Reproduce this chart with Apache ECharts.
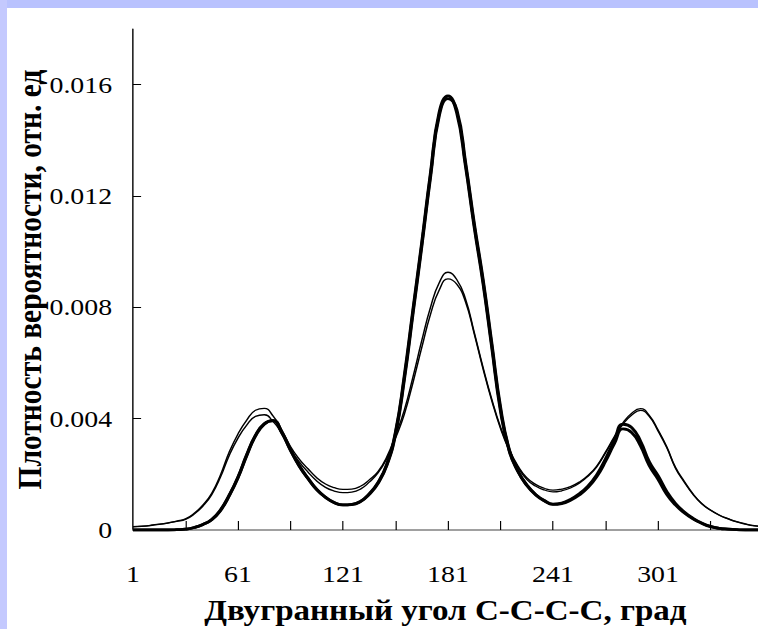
<!DOCTYPE html>
<html>
<head>
<meta charset="utf-8">
<script src="https://cdn.jsdelivr.net/npm/echarts@6/dist/echarts.min.js"></script>
<style>
html, body { margin: 0; padding: 0; width: 758px; height: 629px; overflow: hidden; background: #fff; }
#top-strip { position: absolute; left: 0; top: 0; width: 758px; height: 8px; background: #b9c2fe; z-index: 2; }
#left-strip { position: absolute; left: 0; top: 0; width: 7px; height: 629px; background: #c4c9fe; z-index: 2; }
/* the original picture is stretched sideways, so the chart is too */
#chart { position: absolute; left: 7px; top: 8px; width: 660px; height: 640px; background: #fff;
         transform: scaleX(1.16); transform-origin: 0 0; }
</style>
</head>
<body>
<div id="top-strip"></div>
<div id="left-strip"></div>
<div id="chart"></div>
<script>
// dihedral angle, degrees
var angles = [1, 6, 11, 16, 21, 26, 31, 36, 41, 46, 51, 56, 61, 66, 71, 76, 81, 86, 91, 96,
    101, 106, 111, 116, 121, 126, 131, 136, 141, 146, 151, 156, 161, 166, 171, 176, 181, 186, 191, 196,
    201, 206, 211, 216, 221, 226, 231, 236, 241, 246, 251, 256, 261, 266, 271, 276, 281, 286, 291, 296,
    301, 306, 311, 316, 321, 326, 331, 336, 341, 346, 351, 356, 361];

// probability density, thick curves
var thickA = [0, 0, 0, 0, 0, 0.00001, 0.00003, 0.00009, 0.0002, 0.00038, 0.00072, 0.00125, 0.0019, 0.0027, 0.0034, 0.00382, 0.00392, 0.0035, 0.00287, 0.0023,
    0.00185, 0.00145, 0.00117, 0.00098, 0.0009, 0.00092, 0.00103, 0.0013, 0.0017, 0.00235, 0.0035, 0.0055, 0.0079, 0.0103, 0.0128, 0.015, 0.0156, 0.015, 0.0131, 0.0109,
    0.0089, 0.0066, 0.0043, 0.00285, 0.0021, 0.00162, 0.00128, 0.00106, 0.00093, 0.00097, 0.0011, 0.0013, 0.00158, 0.00198, 0.00255, 0.0032, 0.0038, 0.00368, 0.00319, 0.00245,
    0.00195, 0.00138, 0.00095, 0.00065, 0.00042, 0.00025, 0.00013, 0.00006, 0.00003, 0.00001, 0, 0, 0];
var thickB = [0, 0, 0, 0, 0, 0.00001, 0.00003, 0.00009, 0.0002, 0.00037, 0.0007, 0.00123, 0.00188, 0.00268, 0.00338, 0.0038, 0.00394, 0.00352, 0.00288, 0.00231,
    0.00186, 0.00146, 0.00118, 0.00099, 0.0009, 0.00091, 0.00102, 0.00128, 0.00168, 0.00232, 0.00345, 0.0054, 0.0078, 0.0102, 0.0127, 0.0149, 0.0155, 0.0151, 0.0132, 0.011,
    0.009, 0.0067, 0.0044, 0.00288, 0.00211, 0.00161, 0.00127, 0.00105, 0.00092, 0.00095, 0.00107, 0.00126, 0.00153, 0.00192, 0.00247, 0.0031, 0.00363, 0.0035, 0.00303, 0.00232,
    0.00183, 0.00128, 0.0009, 0.00062, 0.0004, 0.00024, 0.00012, 0.00006, 0.00003, 0.00001, 0, 0, 0];

// probability density, thin curves
var thinA = [0.00012, 0.00014, 0.00017, 0.00021, 0.00026, 0.00032, 0.0004, 0.0006, 0.0009, 0.00132, 0.00198, 0.0028, 0.00345, 0.00395, 0.0043, 0.00437, 0.0041, 0.0036, 0.003, 0.00255,
    0.0022, 0.00188, 0.00165, 0.00152, 0.00146, 0.00147, 0.00157, 0.0018, 0.0021, 0.00262, 0.0034, 0.0043, 0.0055, 0.0068, 0.008, 0.00888, 0.00926, 0.009, 0.0083, 0.0071,
    0.00585, 0.0047, 0.0037, 0.0029, 0.0023, 0.00188, 0.00164, 0.0015, 0.00143, 0.00147, 0.00156, 0.00172, 0.00196, 0.0023, 0.0028, 0.00335, 0.00385, 0.0042, 0.00436, 0.00412,
    0.0036, 0.00299, 0.00225, 0.00175, 0.0013, 0.00095, 0.00072, 0.00054, 0.00041, 0.0003, 0.00022, 0.00016, 0.00013];
var thinB = [0.00011, 0.00013, 0.00016, 0.0002, 0.00025, 0.00031, 0.00038, 0.00057, 0.00086, 0.00127, 0.0019, 0.00268, 0.0033, 0.00377, 0.00408, 0.00414, 0.0039, 0.00347, 0.0029, 0.00245,
    0.00208, 0.00176, 0.00153, 0.0014, 0.00134, 0.00136, 0.00147, 0.00172, 0.00205, 0.00256, 0.0033, 0.00415, 0.0053, 0.00655, 0.00775, 0.00862, 0.00902, 0.00883, 0.0082, 0.00705,
    0.0058, 0.00465, 0.00365, 0.00286, 0.00226, 0.00182, 0.00158, 0.00144, 0.00137, 0.00141, 0.00151, 0.00168, 0.00193, 0.00227, 0.00277, 0.0033, 0.0038, 0.00413, 0.0043, 0.00408,
    0.00356, 0.00296, 0.00222, 0.00172, 0.00128, 0.00094, 0.00071, 0.00053, 0.0004, 0.00029, 0.00021, 0.00015, 0.00012];

var xTickValues = [31, 61, 91, 121, 151, 181, 211, 241, 271, 301, 331];
var xLabelValues = [1, 61, 121, 181, 241, 301];
var yTickValues = [0, 0.004, 0.008, 0.012, 0.016];

var xTitle = 'Двугранный угол С-С-С-С, град';
var yTitle = 'Плотность вероятности, отн. ед';

var serif = "'Liberation Serif', 'Times New Roman', serif";

function pairs(values) {
    return angles.map(function (a, i) { return [a, values[i]]; });
}

function curve(values, width) {
    return {
        type: 'line',
        data: pairs(values),
        showSymbol: false,
        smooth: 0.5,
        clip: true,
        lineStyle: { color: '#000', width: width },
        silent: true
    };
}

var myChart = echarts.init(document.getElementById('chart'), null, { renderer: 'svg' });

var option = {
    backgroundColor: '#fff',
    animation: false,
    grid: { left: 108.6, right: 12.8, top: 21, bottom: 118, containLabel: false, outerBoundsMode: 'none' },
    xAxis: {
        type: 'value',
        min: 1,
        max: 358,
        name: xTitle,
        nameLocation: 'middle',
        nameGap: 66,
        nameMoveOverlap: false,
        nameTextStyle: { fontFamily: serif, fontWeight: 'bold', fontSize: 28.5, color: '#000' },
        axisLine: { show: true, lineStyle: { color: '#808080', width: 1.5 } },
        axisTick: { show: true, inside: true, length: 9, customValues: xTickValues, lineStyle: { color: '#000', width: 1 } },
        axisLabel: { customValues: xLabelValues, margin: 32, fontFamily: serif, fontSize: 24, color: '#000' },
        splitLine: { show: false }
    },
    yAxis: {
        type: 'value',
        min: 0,
        max: 0.018,
        name: yTitle,
        nameLocation: 'middle',
        nameRotate: 90,
        nameGap: 74,
        nameMoveOverlap: false,
        nameTextStyle: { fontFamily: serif, fontWeight: 'bold', fontSize: 29.5, color: '#000' },
        axisLine: { show: true, lineStyle: { color: '#000', width: 1.2 } },
        axisTick: { show: true, inside: true, length: 7, customValues: yTickValues, lineStyle: { color: '#000', width: 1 } },
        axisLabel: { customValues: yTickValues, margin: 18, fontFamily: serif, fontSize: 24, color: '#000' },
        splitLine: { show: false }
    },
    series: [
        curve(thinA, 1.3),
        curve(thinB, 1.3),
        curve(thickA, 2.8),
        curve(thickB, 2.8)
    ]
};

myChart.setOption(option);
</script>
</body>
</html>
